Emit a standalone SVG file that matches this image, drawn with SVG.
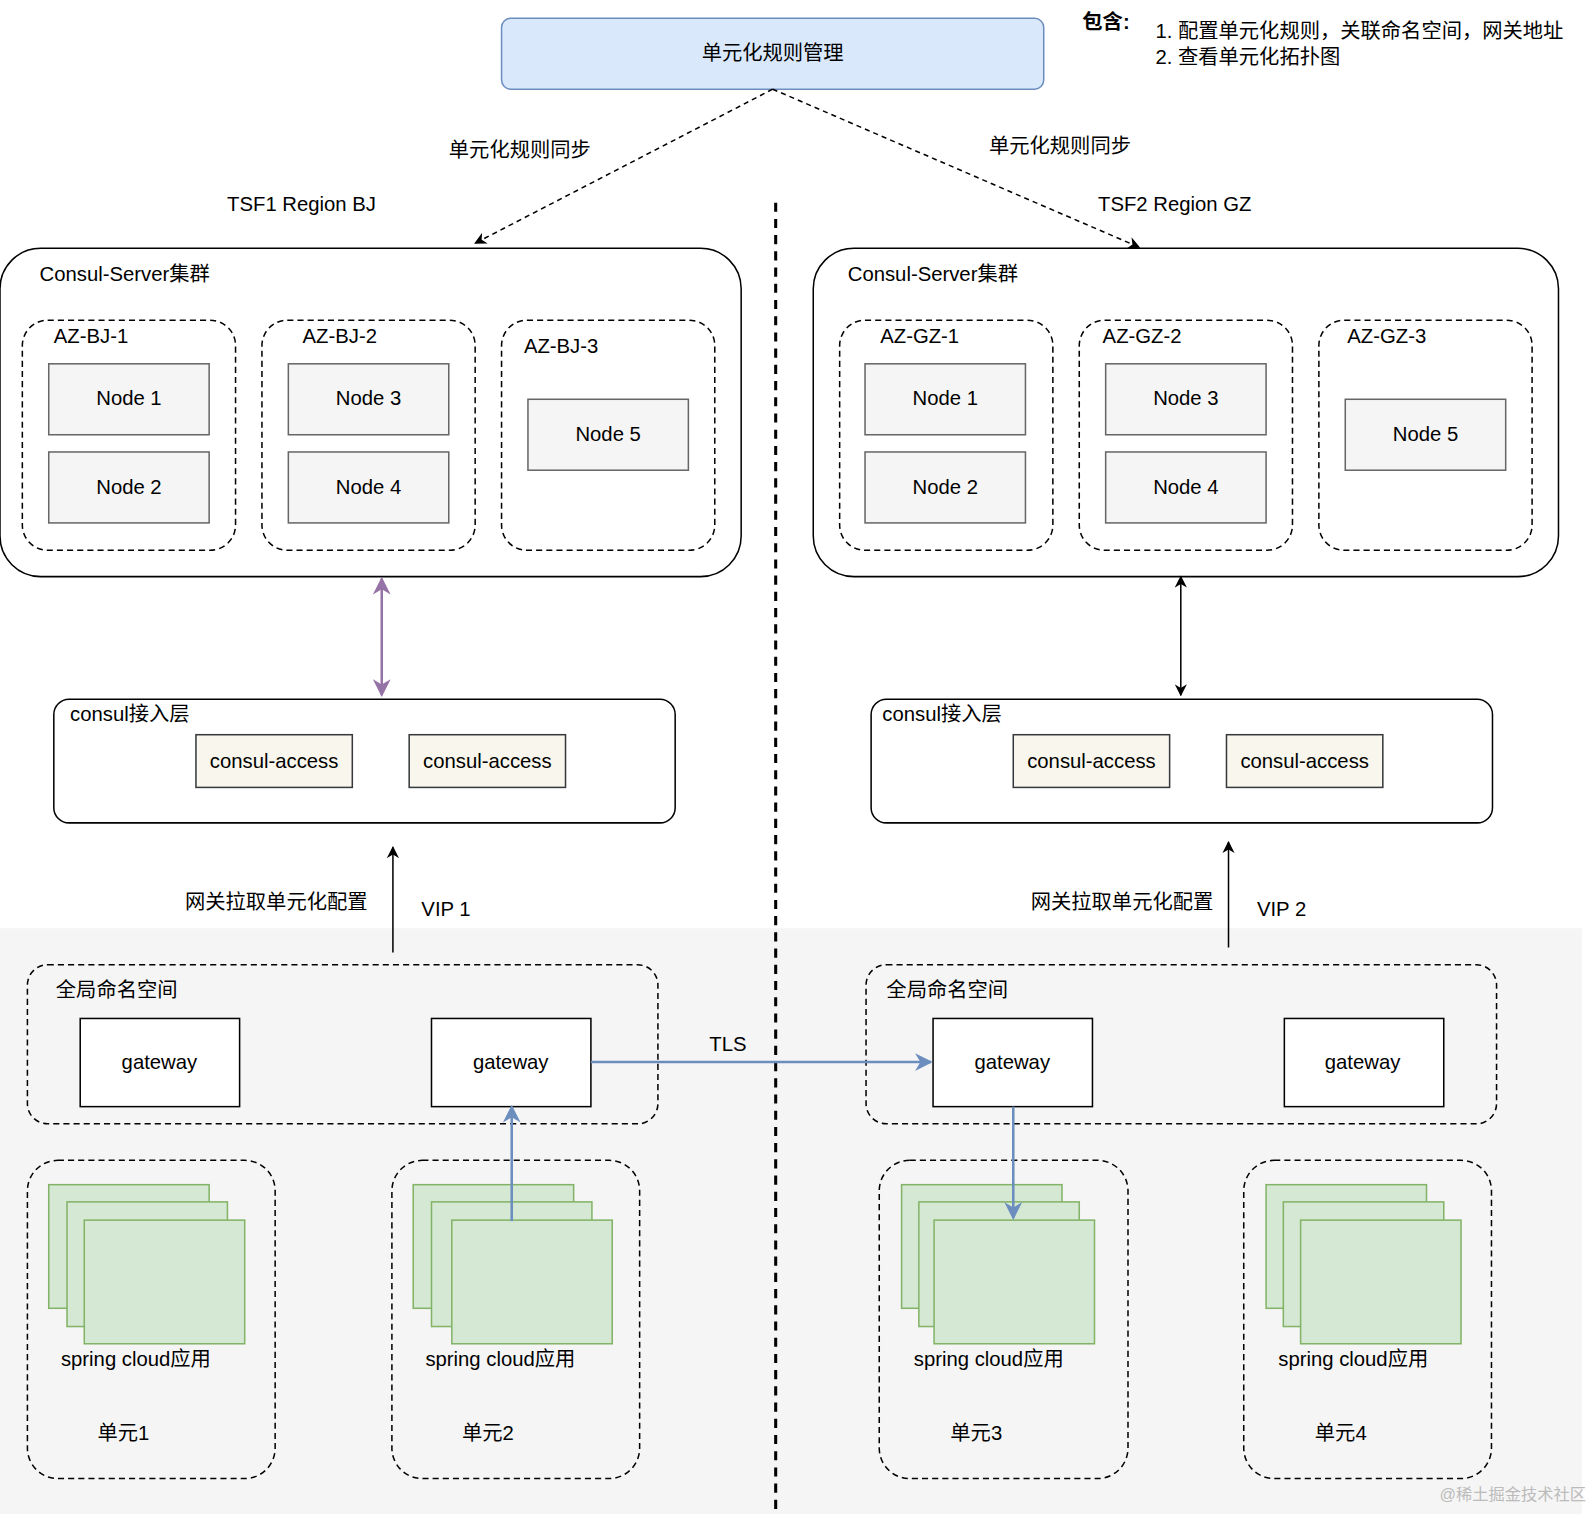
<svg xmlns="http://www.w3.org/2000/svg" width="1592" height="1514" viewBox="0 0 1592 1514">
<defs>
<style>
text{font-family:"Liberation Sans","Noto Sans CJK SC",sans-serif;font-size:20px;fill:#000}
.c{text-anchor:middle}
.az{fill:none;stroke:#000;stroke-width:1.5;stroke-dasharray:6 4}
.node{fill:#f5f5f5;stroke:#666;stroke-width:1.5}
.ca{fill:#f9f7ed;stroke:#36393d;stroke-width:1.5}
.gw{fill:#fff;stroke:#000;stroke-width:1.5}
.app{fill:#d5e8d4;stroke:#82b366;stroke-width:1.5}
.solid{fill:#fff;stroke:#000;stroke-width:1.5}
</style>
<marker id="ab" viewBox="0 0 10 10" refX="9" refY="5" markerWidth="8" markerHeight="8" orient="auto-start-reverse"><path d="M0,0 L10,5 L0,10 L3,5 z" fill="#000"/></marker>
<marker id="ap" viewBox="0 0 10 10" refX="9" refY="5" markerWidth="7" markerHeight="7" orient="auto-start-reverse"><path d="M0,0 L10,5 L0,10 L3,5 z" fill="#9673a6"/></marker>
<marker id="abl" viewBox="0 0 10 10" refX="9" refY="5" markerWidth="7" markerHeight="7" orient="auto-start-reverse"><path d="M0,0 L10,5 L0,10 L3,5 z" fill="#6c8ebf"/></marker>
</defs>
<g transform="scale(1.0153,1.0134)">
<rect x="0" y="916" width="1558" height="580" fill="#f5f5f5"/>
<text x="1562" y="1480" style="font-size:16px;fill:#bbb;text-anchor:end">@稀土掘金技术社区</text>

<g id="top"><rect x="494" y="18" width="534" height="70" rx="9" fill="#dae8fc" stroke="#6c8ebf" stroke-width="1.5"/><text class="c" x="761" y="59">单元化规则管理</text></g>
<g id="note"><text x="1066" y="29" style="font-weight:bold">包含:</text>
<text x="1138" y="38">1.  配置单元化规则，关联命名空间，网关地址</text>
<text x="1138" y="63">2.  查看单元化拓扑图</text></g>
<text class="c" x="512" y="155">单元化规则同步</text>
<text class="c" x="1044" y="151">单元化规则同步</text>
<text class="c" x="297" y="208">TSF1 Region BJ</text>
<text class="c" x="1157" y="208">TSF2 Region GZ</text>

<g id="clusterBJ"><rect x="0" y="245" width="730" height="324" rx="40" class="solid"/><text x="39" y="277">Consul-Server集群</text>
<rect class="az" x="22" y="316" width="210" height="227" rx="25"/><text x="53" y="338">AZ-BJ-1</text>
<rect class="az" x="258" y="316" width="210" height="227" rx="25"/><text x="298" y="338">AZ-BJ-2</text>
<rect class="az" x="494" y="316" width="210" height="227" rx="25"/><text x="516" y="348">AZ-BJ-3</text>
<rect class="node" x="48" y="359" width="158" height="70"/><text class="c" x="127" y="400">Node 1</text>
<rect class="node" x="48" y="446" width="158" height="70"/><text class="c" x="127" y="487">Node 2</text>
<rect class="node" x="284" y="359" width="158" height="70"/><text class="c" x="363" y="400">Node 3</text>
<rect class="node" x="284" y="446" width="158" height="70"/><text class="c" x="363" y="487">Node 4</text>
<rect class="node" x="520" y="394" width="158" height="70"/><text class="c" x="599" y="435">Node 5</text></g>

<g id="clusterGZ"><rect x="801" y="245" width="734" height="324" rx="40" class="solid"/><text x="835" y="277">Consul-Server集群</text>
<rect class="az" x="827" y="316" width="210" height="227" rx="25"/><text x="867" y="338">AZ-GZ-1</text>
<rect class="az" x="1063" y="316" width="210" height="227" rx="25"/><text x="1086" y="338">AZ-GZ-2</text>
<rect class="az" x="1299" y="316" width="210" height="227" rx="25"/><text x="1327" y="338">AZ-GZ-3</text>
<rect class="node" x="852" y="359" width="158" height="70"/><text class="c" x="931" y="400">Node 1</text>
<rect class="node" x="852" y="446" width="158" height="70"/><text class="c" x="931" y="487">Node 2</text>
<rect class="node" x="1089" y="359" width="158" height="70"/><text class="c" x="1168" y="400">Node 3</text>
<rect class="node" x="1089" y="446" width="158" height="70"/><text class="c" x="1168" y="487">Node 4</text>
<rect class="node" x="1325" y="394" width="158" height="70"/><text class="c" x="1404" y="435">Node 5</text></g>

<g id="accessBJ"><rect x="53" y="690" width="612" height="122" rx="15" class="solid"/><text x="69" y="711">consul接入层</text>
<rect class="ca" x="193" y="725" width="154" height="52"/><text class="c" x="270" y="758">consul-access</text>
<rect class="ca" x="403" y="725" width="154" height="52"/><text class="c" x="480" y="758">consul-access</text></g>
<g id="accessGZ"><rect x="858" y="690" width="612" height="122" rx="15" class="solid"/><text x="869" y="711">consul接入层</text>
<rect class="ca" x="998" y="725" width="154" height="52"/><text class="c" x="1075" y="758">consul-access</text>
<rect class="ca" x="1208" y="725" width="154" height="52"/><text class="c" x="1285" y="758">consul-access</text></g>

<text x="362" y="897" style="text-anchor:end">网关拉取单元化配置</text><text x="415" y="904">VIP 1</text>
<text x="1195" y="897" style="text-anchor:end">网关拉取单元化配置</text><text x="1238" y="904">VIP 2</text>

<g id="nsBJ"><rect class="az" x="27" y="952" width="621" height="157" rx="20" fill="#fff"/><text x="55" y="984">全局命名空间</text>
<rect class="gw" x="79" y="1005" width="157" height="87"/><text class="c" x="157" y="1055">gateway</text>
<rect class="gw" x="425" y="1005" width="157" height="87"/><text class="c" x="503" y="1055">gateway</text></g>
<g id="nsGZ"><rect class="az" x="853" y="952" width="621" height="157" rx="20" fill="#fff"/><text x="873" y="984">全局命名空间</text>
<rect class="gw" x="919" y="1005" width="157" height="87"/><text class="c" x="997" y="1055">gateway</text>
<rect class="gw" x="1265" y="1005" width="157" height="87"/><text class="c" x="1342" y="1055">gateway</text></g>

<g id="unit1"><rect class="az" x="27" y="1145" width="244" height="314" rx="30" fill="#fff"/>
<rect class="app" x="48" y="1169" width="158" height="122"/><rect class="app" x="66" y="1186" width="158" height="123"/><rect class="app" x="83" y="1204" width="158" height="122"/>
<text x="60" y="1348">spring cloud应用</text><text x="96" y="1421">单元1</text></g>
<g id="unit2"><rect class="az" x="386" y="1145" width="244" height="314" rx="30" fill="#fff"/>
<rect class="app" x="407" y="1169" width="158" height="122"/><rect class="app" x="425" y="1186" width="158" height="123"/><rect class="app" x="445" y="1204" width="158" height="122"/>
<text x="419" y="1348">spring cloud应用</text><text x="455" y="1421">单元2</text></g>
<g id="unit3"><rect class="az" x="866" y="1145" width="245" height="314" rx="30" fill="#fff"/>
<rect class="app" x="888" y="1169" width="158" height="122"/><rect class="app" x="905" y="1186" width="158" height="123"/><rect class="app" x="920" y="1204" width="158" height="122"/>
<text x="900" y="1348">spring cloud应用</text><text x="936" y="1421">单元3</text></g>
<g id="unit4"><rect class="az" x="1225" y="1145" width="244" height="314" rx="30" fill="#fff"/>
<rect class="app" x="1247" y="1169" width="158" height="122"/><rect class="app" x="1264" y="1186" width="158" height="123"/><rect class="app" x="1281" y="1204" width="158" height="122"/>
<text x="1259" y="1348">spring cloud应用</text><text x="1295" y="1421">单元4</text></g>

<g id="connectors" fill="none">
<line x1="764" y1="200" x2="764" y2="1494" stroke="#000" stroke-width="3" stroke-dasharray="9 7"/>
<line x1="761" y1="88" x2="468" y2="240" stroke="#000" stroke-width="1.5" stroke-dasharray="5 4" marker-end="url(#ab)"/>
<line x1="761" y1="88" x2="1122" y2="244" stroke="#000" stroke-width="1.5" stroke-dasharray="5 4" marker-end="url(#ab)"/>
<line x1="376" y1="571" x2="376" y2="686" stroke="#9673a6" stroke-width="2.5" marker-start="url(#ap)" marker-end="url(#ap)"/>
<line x1="1163" y1="569" x2="1163" y2="686" stroke="#000" stroke-width="1.5" marker-start="url(#ab)" marker-end="url(#ab)"/>
<line x1="387" y1="940" x2="387" y2="836" stroke="#000" stroke-width="1.5" marker-end="url(#ab)"/>
<line x1="1210" y1="935" x2="1210" y2="831" stroke="#000" stroke-width="1.5" marker-end="url(#ab)"/>
<line x1="582" y1="1048" x2="917" y2="1048" stroke="#6c8ebf" stroke-width="2.5" marker-end="url(#abl)"/>
<line x1="504" y1="1205" x2="504" y2="1092" stroke="#6c8ebf" stroke-width="2.5" marker-end="url(#abl)"/>
<line x1="998" y1="1092" x2="998" y2="1202" stroke="#6c8ebf" stroke-width="2.5" marker-end="url(#abl)"/>
</g>
<text class="c" x="717" y="1037">TLS</text>
</g>
</svg>
